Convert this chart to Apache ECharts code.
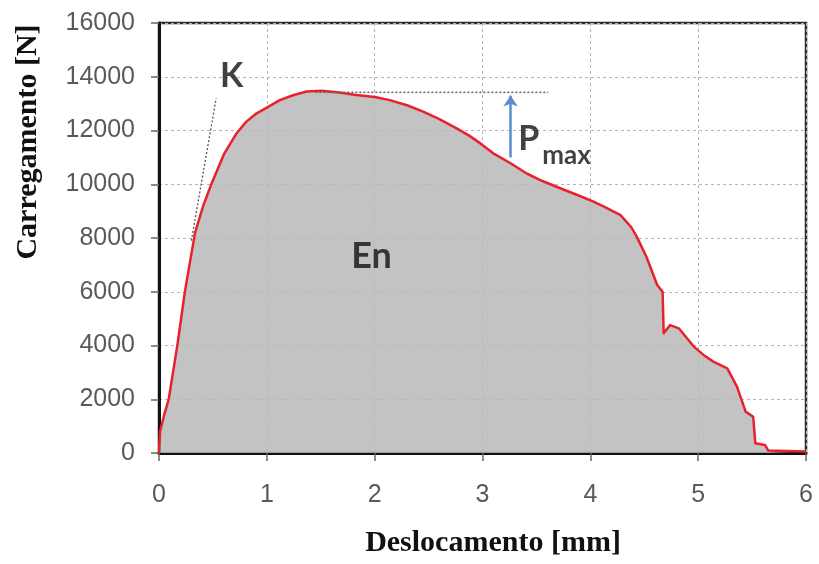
<!DOCTYPE html>
<html>
<head>
<meta charset="utf-8">
<script src="https://cdn.jsdelivr.net/npm/echarts@6/dist/echarts.min.js"></script>
<style>html,body{margin:0;padding:0;background:#fff;}#c{width:819px;height:564px;}</style>
</head>
<body>
<div id="c"></div>
<script>
// Displacement [mm] and load [N]
var dispX = [0, 0.01, 0.05, 0.09, 0.17, 0.24, 0.334, 0.41, 0.489, 0.6, 0.72, 0.81, 0.906, 1.0, 1.12, 1.25, 1.37, 1.51, 1.67, 1.83, 2.0, 2.14, 2.3, 2.45, 2.6, 2.76, 2.88, 2.98, 3.1, 3.26, 3.41, 3.55, 3.72, 3.88, 4.03, 4.15, 4.28, 4.38, 4.43, 4.52, 4.62, 4.67, 4.68, 4.74, 4.82, 4.96, 5.05, 5.14, 5.27, 5.36, 5.44, 5.51, 5.53, 5.62, 5.65, 6.0];
var loadY = [0, 800, 1450, 2000, 4000, 6000, 8190, 9200, 10040, 11100, 11900, 12330, 12640, 12850, 13130, 13320, 13450, 13480, 13410, 13320, 13250, 13130, 12940, 12700, 12420, 12080, 11800, 11520, 11150, 10780, 10400, 10130, 9850, 9600, 9350, 9120, 8850, 8400, 8050, 7300, 6250, 6000, 4460, 4760, 4640, 3960, 3650, 3400, 3150, 2470, 1540, 1350, 360, 300, 90, 60];

// Stiffness tangent K
var kLineX = [0.30, 0.53];
var kLineY = [7900, 13200];
// Pmax reference level
var pmaxLineX = [1.45, 3.61];
var pmaxLineY = [13420, 13420];
// Arrow (x, from, to)
var arrowX = 3.26;
var arrowFrom = 11000;
var arrowTo = 13300;

// Annotation texts and anchor positions
var annoText = ['K', 'En', 'P', 'max'];
var annoX = [0.674, 1.97, 3.43, 3.78];
var annoY = [14035, 7330, 11680, 11070];

var xTicks = [0, 1, 2, 3, 4, 5, 6];
var yTicks = [0, 2000, 4000, 6000, 8000, 10000, 12000, 14000, 16000];

var xTitle = 'Deslocamento [mm]';
var yTitle = 'Carregamento [N]';

function zip(a, b) { return a.map(function (v, i) { return [v, b[i]]; }); }

var annoSize = {'K': 34, 'En': 36, 'P': 34, 'max': 26};

var chart = echarts.init(document.getElementById('c'), null, {renderer: 'canvas'});
var option = {
  animation: false,
  backgroundColor: '#ffffff',
  grid: {left: 159, right: 13, top: 23, bottom: 111, show: true, borderColor: '#2b2b2b', borderWidth: 2.5, backgroundColor: 'transparent'},
  xAxis: {
    type: 'value', min: xTicks[0], max: xTicks[xTicks.length - 1], interval: 1,
    axisLine: {show: true, onZero: false, lineStyle: {color: '#111', width: 3}},
    axisTick: {show: true, length: 8, lineStyle: {color: '#666', width: 1.5}},
    axisLabel: {color: '#5a5a5a', fontSize: 25, fontFamily: 'Liberation Sans', margin: 30,
      formatter: function (v) { return String(v); }},
    splitLine: {show: true, lineStyle: {color: '#b5b5b5', width: 1, type: [3, 3]}}
  },
  yAxis: {
    type: 'value', min: yTicks[0], max: yTicks[yTicks.length - 1], interval: 2000,
    axisLine: {show: true, onZero: false, lineStyle: {color: '#111', width: 3}},
    axisTick: {show: true, length: 8, lineStyle: {color: '#666', width: 1.5}},
    axisLabel: {color: '#5a5a5a', fontSize: 25, fontFamily: 'Liberation Sans', margin: 24,
      formatter: function (v) { return String(v); }},
    splitLine: {show: true, lineStyle: {color: '#b5b5b5', width: 1, type: [3, 3]}}
  },
  graphic: [
    {type: 'text', x: 493, y: 543, style: {text: xTitle, font: 'bold 30px "Liberation Serif"', fill: '#111', textAlign: 'center', textVerticalAlign: 'middle'}},
    {type: 'text', x: 28, y: 142, rotation: Math.PI / 2, style: {text: yTitle, font: 'bold 30px "Liberation Serif"', fill: '#111', textAlign: 'center', textVerticalAlign: 'middle'}}
  ],
  series: [
    {
      type: 'line', data: zip(dispX, loadY), symbol: 'none', smooth: false, z: 3,
      lineStyle: {color: '#e8222c', width: 2.5, join: 'round'},
      areaStyle: {color: 'rgb(185,185,185)', opacity: 0.85}
    },
    {
      type: 'line', data: zip(kLineX, kLineY), symbol: 'none', z: 4,
      lineStyle: {color: '#555', width: 1.3, type: [2, 2]}
    },
    {
      type: 'line', data: zip(pmaxLineX, pmaxLineY), symbol: 'none', z: 4,
      lineStyle: {color: '#666', width: 1.6, type: [2, 2]},
      markLine: {
        silent: true, symbol: ['none', 'arrow'], symbolSize: 11,
        lineStyle: {color: '#5b8ccb', width: 2.5, type: 'solid'},
        label: {show: false},
        data: [[{coord: [arrowX, arrowFrom]}, {coord: [arrowX, arrowTo]}]]
      }
    },
    {
      type: 'scatter', symbolSize: 0, z: 5,
      data: annoText.map(function (t, i) {
        return {name: t, value: [annoX[i], annoY[i]], label: {fontSize: annoSize[t]}};
      }),
      label: {
        show: true, position: 'inside', color: '#111', fontFamily: 'Lato', fontWeight: 'bold',
        formatter: function (p) { return p.name; }
      }
    }
  ]
};
chart.setOption(option);
</script>
</body>
</html>
